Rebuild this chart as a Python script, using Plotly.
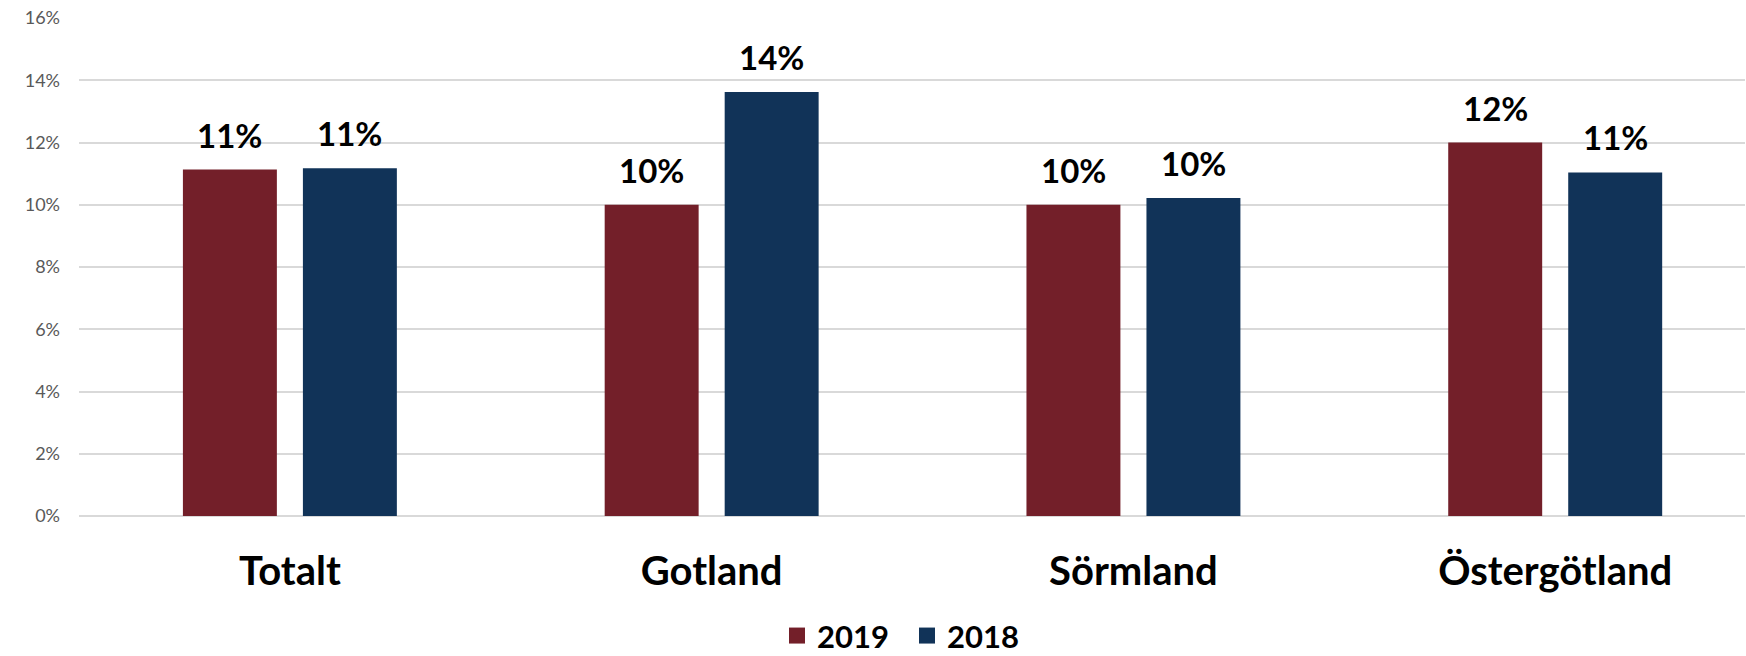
import plotly.graph_objects as go

categories = ["Totalt", "Gotland", "Sörmland", "Östergötland"]
values_2019 = [0.1113, 0.1000, 0.1000, 0.1200]
values_2018 = [0.1117, 0.1362, 0.1022, 0.1104]
labels_2019 = ["11%", "10%", "10%", "12%"]
labels_2018 = ["11%", "14%", "10%", "11%"]
y_ticks = [0, 0.02, 0.04, 0.06, 0.08, 0.10, 0.12, 0.14, 0.16]
y_tick_text = ["0%", "2%", "4%", "6%", "8%", "10%", "12%", "14%", "16%"]

C2019 = "#731F29"
C2018 = "#113358"
FONT = "Lato"

fig = go.Figure()
fig.add_trace(go.Bar(x=categories, y=values_2019, name="2019", marker_color=C2019,
                     marker_line_width=0, showlegend=False))
fig.add_trace(go.Bar(x=categories, y=values_2018, name="2018", marker_color=C2018,
                     marker_line_width=0, showlegend=False))
# legend entries with larger square symbols
fig.add_trace(go.Scatter(x=[None], y=[None], mode="markers", name="2019",
                         marker=dict(symbol="square", size=21, color=C2019)))
fig.add_trace(go.Scatter(x=[None], y=[None], mode="markers", name="2018",
                         marker=dict(symbol="square", size=21, color=C2018)))

for cat, v, t in zip(categories, values_2019, labels_2019):
    fig.add_annotation(x=cat, y=v, text=t, showarrow=False, xshift=-60, yshift=13,
                       yanchor="bottom", font=dict(family=FONT, size=33, color="#000000", weight="bold"))
for cat, v, t in zip(categories, values_2018, labels_2018):
    fig.add_annotation(x=cat, y=v, text=t, showarrow=False, xshift=60, yshift=13,
                       yanchor="bottom", font=dict(family=FONT, size=33, color="#000000", weight="bold"))

fig.update_layout(
    width=1746, height=656,
    margin=dict(l=79, r=1, t=17.5, b=140, autoexpand=False),
    paper_bgcolor="white", plot_bgcolor="white",
    barmode="group", bargap=0.431, bargroupgap=0.217,
    showlegend=True,
    legend=dict(orientation="h", x=0.497, xanchor="center", y=-0.295, yanchor="bottom",
                font=dict(family=FONT, size=31, color="#000000", weight="bold"),
                itemwidth=30, tracegroupgap=0, entrywidth=85, borderwidth=0),
    xaxis=dict(range=[-0.5, 3.45], showgrid=False, showline=False, zeroline=False,
               ticks="", ticklabelstandoff=28,
               tickfont=dict(family=FONT, size=40, color="#000000", weight="bold")),
    yaxis=dict(range=[0, 0.16], tickvals=y_ticks, ticktext=y_tick_text,
               showgrid=True, gridcolor="#D9D9D9", gridwidth=1.5,
               zeroline=True, zerolinecolor="#D9D9D9", zerolinewidth=1.5,
               showline=False, ticks="", ticklabelstandoff=18, ticklabeloverflow="allow",
               tickfont=dict(family=FONT, size=18, color="#595959")),
)

fig.write_html("out.html", config={"displayModeBar": False},
               post_script="document.body.style.margin='0';")
